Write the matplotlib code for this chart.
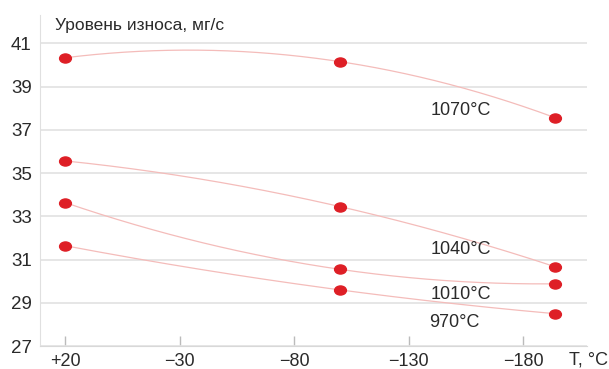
import matplotlib.pyplot as plt
import numpy as np
from matplotlib.path import Path
from matplotlib.transforms import Affine2D

plt.rcParams['font.family'] = ['Liberation Sans', 'DejaVu Sans']

# test temperature, deg C
temps = [20, -100, -194]
# wear rate, mg/s, per quench temperature
wear_1070 = [40.33, 40.15, 37.56]
wear_1040 = [35.56, 33.45, 30.67]
wear_1010 = [33.63, 30.55, 29.88]
wear_970 = [31.64, 29.60, 28.50]
series = [('1070°C', wear_1070), ('1040°C', wear_1040),
          ('1010°C', wear_1010), ('970°C', wear_970)]
label_pos = [(-153, 37.9), (-153, 31.45), (-153, 29.4), (-150, 28.1)]

xticks = [20, -30, -80, -130, -180]
xlabels = ['+20', '\u221230', '\u221280', '\u2212130', '\u2212180']
yticks = [27, 29, 31, 33, 35, 37, 39, 41]

text_c = '#2a2a2a'
grid_c = '#e2e2e2'
line_c = '#f4bcba'
dot_c = '#de1f26'

# slightly wide ellipse for the markers
oval = Path.unit_circle().transformed(Affine2D().scale(1.3, 1.0))

fig = plt.figure(figsize=(6.09, 3.69), dpi=100)
ax = fig.add_axes([0.066, 0.062, 0.898, 0.897])

for name, vals in series:
    # smooth curve through the three measured points
    c = np.polyfit(temps, vals, 2)
    xs = np.linspace(temps[0], temps[-1], 200)
    ax.plot(xs, np.polyval(c, xs), color=line_c, lw=0.9, zorder=2)
    ax.plot(temps, vals, ls='none', marker=oval, ms=8.5, color=dot_c, zorder=3)

for (name, vals), (lx, ly) in zip(series, label_pos):
    ax.text(lx, ly, name, fontsize=13, color=text_c, ha='center', va='center')

ax.set_xlim(31, -208)
ax.set_ylim(27, 42.3)
ax.set_yticks(yticks)
ax.set_xticks(xticks)
ax.set_xticklabels(xlabels)
ax.grid(axis='y', color=grid_c, lw=1.2)
ax.set_axisbelow(True)
ax.tick_params(axis='y', length=0, pad=6, labelsize=13.5, labelcolor=text_c)
ax.tick_params(axis='x', direction='in', length=7, width=1, color='#bbbbbb',
               pad=5, labelsize=13, labelcolor=text_c)
for s in ['top', 'right']:
    ax.spines[s].set_visible(False)
ax.spines['left'].set_color('#e0e0e0')
ax.spines['bottom'].set_color('#d8d8d8')

fig.text(0.09, 0.932, 'Уровень износа, мг/с', fontsize=12.5, color=text_c,
         ha='left', va='center')
fig.text(0.999, 0.025, 'T, °C', fontsize=13, color=text_c, ha='right', va='center')

fig.savefig('out.png', dpi=100)
